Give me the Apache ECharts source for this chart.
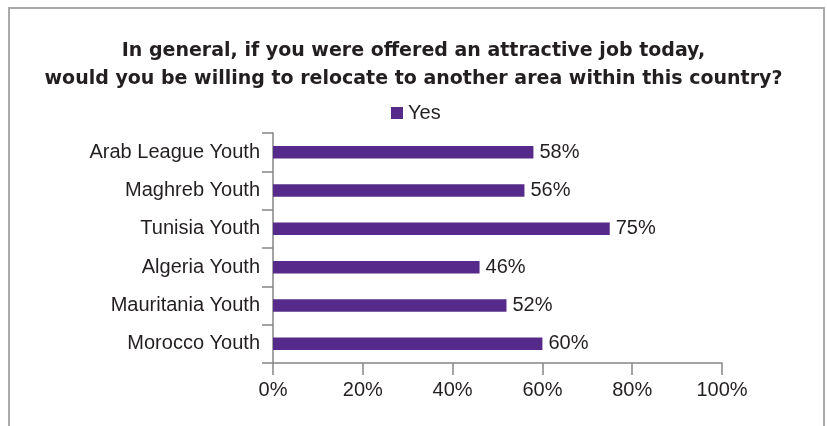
<!DOCTYPE html>
<html>
<head>
<meta charset="utf-8">
<script src="https://cdn.jsdelivr.net/npm/echarts@6/dist/echarts.min.js"></script>
<style>
	html, body { margin: 0; padding: 0; background: #fff; }
	#chart { width: 827px; height: 426px; }
</style>
</head>
<body>
<div id="chart"></div>
<script>
// categories top to bottom
const categories = [
	'Arab League Youth',
	'Maghreb Youth',
	'Tunisia Youth',
	'Algeria Youth',
	'Mauritania Youth',
	'Morocco Youth'
];
// share answering "Yes", percent
const yesValues = [58, 56, 75, 46, 52, 60];
const seriesName = 'Yes';
const titleText = 'In general, if you were offered an attractive job today,\nwould you be willing to relocate to another area within this country?';

const textColor = '#231f20';
const axisColor = '#858585';
const barColor = '#552a8a';
const font = 'Liberation Sans';

const chart = echarts.init(document.getElementById('chart'), null, { renderer: 'canvas' });

chart.setOption({
	backgroundColor: '#fff',
	animation: false,
	// outer frame of the figure
	graphic: [
		{
			type: 'rect',
			shape: { x: 9, y: 8, width: 815, height: 440 },
			style: { fill: 'none', stroke: '#aaaaaa', lineWidth: 2 },
			silent: true
		}
	],
	title: {
		text: titleText,
		left: 'center',
		top: 37,
		padding: [0, 0, 0, 6],
		textStyle: {
			fontFamily: 'DejaVu Sans',
			fontWeight: 'bold',
			fontSize: 19,
			lineHeight: 28,
			color: textColor
		}
	},
	legend: {
		data: [seriesName],
		left: 386,
		top: 98,
		icon: 'rect',
		itemWidth: 12,
		itemHeight: 12,
		textStyle: { fontFamily: font, fontSize: 20, color: textColor }
	},
	grid: {
		left: 273,
		right: 105,
		top: 133,
		bottom: 63,
		containLabel: false
	},
	xAxis: {
		type: 'value',
		min: 0,
		max: 100,
		interval: 20,
		axisLine: { show: true, lineStyle: { color: axisColor, width: 1.5 } },
		axisTick: { show: true, length: 12, lineStyle: { color: axisColor, width: 1.5 } },
		splitLine: { show: false },
		axisLabel: {
			formatter: '{value}%',
			margin: 17,
			fontFamily: font,
			fontSize: 20,
			color: textColor
		}
	},
	yAxis: {
		type: 'category',
		data: categories,
		inverse: true,
		axisLine: { show: true, lineStyle: { color: axisColor, width: 1.5 } },
		axisTick: { show: true, length: 11, lineStyle: { color: axisColor, width: 1.5 } },
		axisLabel: {
			margin: 13,
			fontFamily: font,
			fontSize: 20,
			color: textColor
		}
	},
	series: [
		{
			name: seriesName,
			type: 'bar',
			data: yesValues,
			barWidth: 12.5,
			itemStyle: { color: barColor },
			label: {
				show: true,
				position: 'right',
				distance: 6,
				formatter: '{c}%',
				fontFamily: font,
				fontSize: 20,
				color: textColor
			}
		}
	]
});
</script>
</body>
</html>
